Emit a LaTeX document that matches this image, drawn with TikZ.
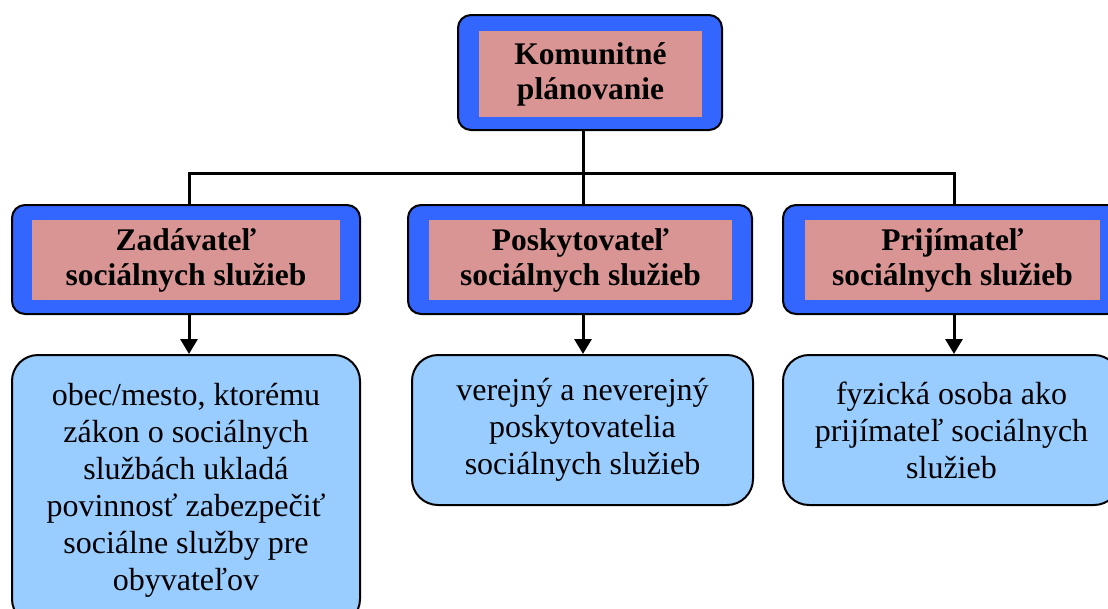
\documentclass[tikz,border=0pt]{standalone}
\usepackage{fontspec}
\setmainfont{Liberation Serif}
\usetikzlibrary{arrows.meta}
\definecolor{frameblue}{HTML}{3366FF}
\definecolor{pinkfill}{HTML}{D99594}
\definecolor{lightblue}{HTML}{99CCFF}
\tikzset{
 outerbox/.style={draw=black, line width=2pt, fill=frameblue, rounded corners=13pt, inner sep=0pt},
 innerbox/.style={fill=pinkfill, inner sep=0pt, align=center, font=\fontsize{31.5}{35}\selectfont\bfseries},
 leafbox/.style={draw=black, line width=2pt, fill=lightblue, rounded corners=26pt, inner sep=0pt, align=center, font=\fontsize{32}{37}\selectfont},
 conn/.style={line width=3pt},
 arr/.style={line width=3pt, -{Triangle[width=17pt,length=15pt]}}
}
\begin{document}
\begin{tikzpicture}[x=1pt,y=-1pt]
\useasboundingbox (0,0) rectangle (1108,608);
\clip (0,0) rectangle (1108,608);
% top
\node[outerbox, minimum width=264pt, minimum height=115pt] (topO) at (590,72.5) {};
\node[innerbox, minimum width=223pt, minimum height=86pt] (top) at (590.5,74) {Komunitné\\plánovanie};
% middle row
\node[outerbox, minimum width=348pt, minimum height=109pt] (zO) at (186,259.5) {};
\node[innerbox, minimum width=308pt, minimum height=80pt] (z) at (186,260) {Zadávateľ\\sociálnych služieb};
\node[outerbox, minimum width=344pt, minimum height=109pt] (pO) at (580,259.5) {};
\node[innerbox, minimum width=303pt, minimum height=80pt] (p) at (580.5,260) {Poskytovateľ\\sociálnych služieb};
\node[outerbox, minimum width=337pt, minimum height=109pt] (rO) at (951.5,259.5) {};
\node[innerbox, minimum width=295pt, minimum height=80pt] (r) at (952.5,260) {Prijímateľ\\sociálnych služieb};
% bottom row
\node[leafbox, minimum width=348pt, minimum height=270pt] (zL) at (186,490) {obec/mesto, ktorému\\zákon o sociálnych\\službách ukladá\\povinnosť zabezpečiť\\sociálne služby pre\\obyvateľov};
\node[leafbox, minimum width=341pt, minimum height=150pt] (pL) at (582.5,430) {verejný a neverejný\\poskytovatelia\\sociálnych služieb};
\node[leafbox, minimum width=337pt, minimum height=150pt] (rL) at (951.5,430) {fyzická osoba ako\\prijímateľ sociálnych\\služieb};
% connectors
\coordinate (j) at (583,173);
\coordinate (jl) at (189,173);
\coordinate (jr) at (954,173);
\draw[conn] (topO.south -| j) -- (pO.north -| j);
\draw[conn] (zO.north -| jl) -- (jl) -- (jr) -- (rO.north -| jr);
\draw[arr] (zO.south -| jl) -- (zL.north -| jl);
\draw[arr] (pO.south -| j) -- (pL.north -| j);
\draw[arr] (rO.south -| jr) -- (rL.north -| jr);
\end{tikzpicture}
\end{document}
